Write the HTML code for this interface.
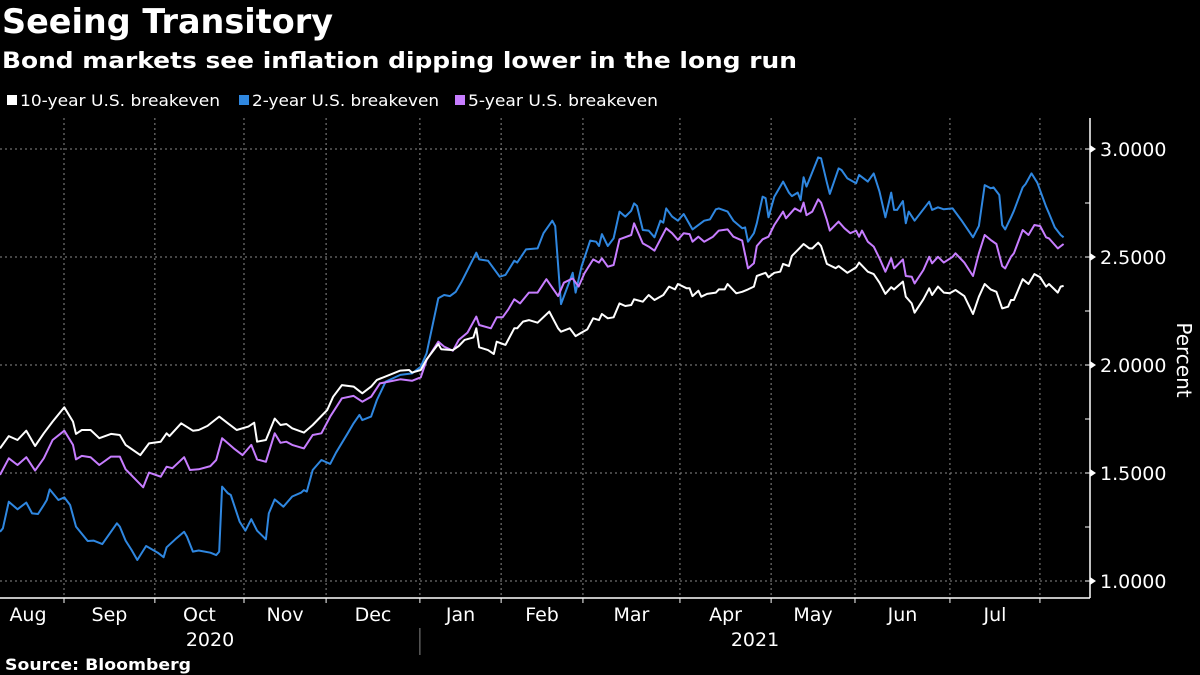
<!DOCTYPE html>
<html><head><meta charset="utf-8"><style>
html,body{margin:0;padding:0;background:#000;width:1200px;height:675px;overflow:hidden}
svg{display:block}
text{font-family:"DejaVu Sans","Liberation Sans",sans-serif;fill:#fff}
</style></head><body>
<svg id="chart" width="1200" height="675" viewBox="0 0 1200 675">
<text x="2" y="33" font-size="34" font-weight="bold" textLength="331" lengthAdjust="spacingAndGlyphs">Seeing Transitory</text>
<text x="2" y="68" font-size="22" font-weight="bold" textLength="795" lengthAdjust="spacingAndGlyphs">Bond markets see inflation dipping lower in the long run</text>
<g>
<rect x="7" y="95" width="10" height="10" fill="#fff"/>
<text x="20" y="106" font-size="16" textLength="200" lengthAdjust="spacingAndGlyphs">10-year U.S. breakeven</text>
<rect x="239" y="95" width="10" height="10" fill="#2f87e0"/>
<text x="252" y="106" font-size="16" textLength="187" lengthAdjust="spacingAndGlyphs">2-year U.S. breakeven</text>
<rect x="455" y="95" width="10" height="10" fill="#c77dff"/>
<text x="468" y="106" font-size="16" textLength="190" lengthAdjust="spacingAndGlyphs">5-year U.S. breakeven</text>
</g>
<g id="grid"></g>
<g id="series"></g>
<g id="axes"></g>
<text transform="translate(1177,360) rotate(90)" font-size="20" text-anchor="middle">Percent</text>
<text x="5" y="670" font-size="16" font-weight="bold" textLength="186" lengthAdjust="spacingAndGlyphs">Source: Bloomberg</text>
</svg>
<script>
// x in trading-day positions since 2020-08-10
const yTicks = [1.0, 1.5, 2.0, 2.5, 3.0];
const yTickLabels = ["1.0000","1.5000","2.0000","2.5000","3.0000"];
const monthGridDays = [21.9,53.0,83.5,111.6,143.7,171.5,199.5,232.7,263.9,292.6,325.1,355.9];
const monthLabels = ["Aug","Sep","Oct","Nov","Dec","Jan","Feb","Mar","Apr","May","Jun","Jul"];
const yearLabels = ["2020","2021"];
const white10y = [[0,1.614],[3,1.671],[6,1.653],[9,1.696],[12,1.625],[15,1.684],[18,1.738],[22,1.804],[25,1.738],[26,1.681],[28,1.699],[31,1.699],[34,1.661],[38,1.681],[41,1.676],[43,1.630],[48,1.583],[51,1.637],[55,1.645],[57,1.684],[58,1.671],[62,1.730],[66,1.696],[68,1.699],[71,1.718],[75,1.761],[78,1.730],[81,1.699],[85,1.715],[87,1.733],[88,1.645],[91,1.653],[94,1.752],[96,1.722],[98,1.727],[100,1.707],[104,1.687],[107,1.722],[110,1.764],[112,1.792],[114,1.853],[117,1.907],[121,1.900],[124,1.869],[127,1.900],[129,1.931],[137,1.974],[140,1.977],[141,1.965],[144,1.977],[146,2.026],[150,2.097],[151,2.073],[155,2.069],[157,2.088],[159,2.116],[162,2.128],[163,2.170],[164,2.082],[167,2.069],[169,2.051],[170,2.108],[173,2.093],[176,2.170],[177,2.170],[179,2.201],[181,2.208],[184,2.196],[188,2.247],[191,2.170],[192,2.154],[195,2.170],[197,2.134],[199,2.150],[201,2.165],[203,2.216],[205,2.208],[206,2.236],[208,2.216],[210,2.221],[212,2.285],[214,2.273],[216,2.278],[217,2.304],[220,2.293],[222,2.324],[224,2.301],[227,2.324],[229,2.363],[231,2.350],[232,2.375],[235,2.355],[236,2.355],[237,2.319],[239,2.344],[240,2.316],[242,2.329],[245,2.335],[246,2.350],[248,2.350],[249,2.375],[252,2.332],[254,2.339],[256,2.350],[258,2.363],[259,2.412],[262,2.427],[263,2.406],[265,2.427],[267,2.432],[268,2.468],[270,2.458],[271,2.505],[273,2.532],[275,2.560],[277,2.540],[278,2.540],[280,2.566],[281,2.551],[283,2.468],[286,2.448],[287,2.458],[290,2.427],[293,2.452],[294,2.474],[297,2.432],[299,2.421],[301,2.381],[303,2.329],[305,2.360],[306,2.350],[309,2.386],[310,2.316],[312,2.285],[313,2.242],[316,2.304],[318,2.355],[319,2.324],[321,2.363],[323,2.335],[325,2.332],[327,2.347],[330,2.319],[333,2.236],[335,2.316],[337,2.375],[339,2.350],[341,2.339],[343,2.262],[345,2.270],[346,2.301],[347,2.301],[350,2.397],[352,2.375],[354,2.421],[356,2.406],[358,2.363],[359,2.375],[362,2.335],[363,2.363],[364,2.366]];
const blue2y = [[0,1.228],[1,1.244],[3,1.367],[6,1.332],[9,1.363],[11,1.313],[13,1.310],[15,1.352],[16,1.375],[17,1.424],[20,1.375],[22,1.387],[24,1.352],[26,1.252],[30,1.185],[32,1.187],[35,1.171],[40,1.267],[41,1.252],[43,1.187],[45,1.144],[47,1.097],[50,1.162],[54,1.131],[56,1.110],[57,1.156],[60,1.193],[63,1.228],[64,1.205],[66,1.136],[68,1.141],[72,1.131],[74,1.120],[75,1.136],[76,1.437],[78,1.406],[79,1.398],[82,1.275],[84,1.233],[86,1.286],[88,1.233],[91,1.193],[92,1.313],[94,1.378],[97,1.344],[100,1.391],[103,1.409],[104,1.421],[105,1.414],[107,1.514],[110,1.560],[113,1.542],[115,1.594],[119,1.684],[121,1.730],[123,1.769],[124,1.745],[127,1.761],[129,1.838],[132,1.923],[137,1.954],[141,1.961],[144,1.992],[146,2.054],[150,2.309],[152,2.324],[154,2.319],[156,2.339],[158,2.386],[163,2.520],[164,2.489],[167,2.483],[171,2.409],[173,2.417],[176,2.483],[177,2.474],[180,2.535],[184,2.540],[186,2.610],[189,2.668],[190,2.643],[192,2.282],[196,2.427],[197,2.335],[199,2.455],[202,2.576],[204,2.571],[205,2.551],[206,2.606],[208,2.551],[210,2.586],[212,2.710],[214,2.687],[216,2.714],[217,2.748],[218,2.736],[220,2.625],[222,2.622],[224,2.591],[226,2.668],[227,2.659],[228,2.725],[230,2.687],[232,2.668],[234,2.699],[237,2.628],[241,2.668],[243,2.674],[245,2.721],[246,2.725],[249,2.710],[251,2.668],[254,2.633],[255,2.637],[256,2.571],[258,2.610],[259,2.656],[261,2.779],[262,2.772],[263,2.684],[265,2.779],[268,2.849],[270,2.798],[271,2.782],[273,2.798],[274,2.764],[275,2.869],[276,2.826],[280,2.961],[281,2.957],[283,2.844],[284,2.792],[287,2.910],[288,2.903],[290,2.864],[293,2.841],[294,2.880],[297,2.849],[299,2.887],[301,2.803],[303,2.684],[305,2.798],[306,2.718],[307,2.718],[309,2.759],[310,2.656],[311,2.710],[313,2.668],[318,2.756],[319,2.718],[321,2.730],[323,2.721],[326,2.725],[329,2.671],[333,2.591],[335,2.644],[337,2.833],[339,2.818],[340,2.822],[342,2.787],[343,2.648],[344,2.628],[346,2.684],[347,2.714],[350,2.822],[351,2.838],[353,2.887],[355,2.844],[358,2.733],[359,2.702],[361,2.637],[363,2.602],[364,2.591]];
const purple5y = [[0,1.491],[3,1.568],[6,1.537],[9,1.573],[12,1.511],[15,1.568],[18,1.653],[22,1.696],[25,1.630],[26,1.563],[28,1.579],[31,1.573],[34,1.537],[38,1.576],[41,1.576],[43,1.517],[49,1.434],[51,1.502],[55,1.483],[57,1.529],[59,1.522],[63,1.573],[65,1.514],[68,1.517],[72,1.532],[74,1.560],[76,1.661],[80,1.614],[83,1.583],[86,1.630],[88,1.563],[91,1.552],[94,1.684],[96,1.640],[98,1.645],[100,1.630],[104,1.614],[107,1.676],[110,1.684],[113,1.761],[117,1.846],[121,1.857],[124,1.830],[127,1.853],[130,1.915],[137,1.934],[141,1.927],[144,1.943],[146,2.023],[150,2.108],[152,2.085],[155,2.066],[157,2.116],[160,2.150],[163,2.224],[164,2.185],[168,2.170],[170,2.221],[172,2.221],[174,2.258],[176,2.304],[178,2.285],[181,2.335],[184,2.335],[187,2.397],[191,2.319],[193,2.381],[196,2.401],[198,2.363],[200,2.424],[203,2.489],[205,2.474],[206,2.494],[208,2.455],[210,2.463],[212,2.582],[216,2.602],[217,2.656],[218,2.625],[220,2.563],[222,2.548],[224,2.529],[226,2.582],[228,2.633],[230,2.610],[232,2.579],[234,2.610],[236,2.606],[237,2.571],[239,2.594],[241,2.571],[244,2.594],[246,2.622],[249,2.628],[251,2.594],[254,2.576],[256,2.447],[258,2.471],[259,2.551],[261,2.582],[263,2.594],[265,2.648],[268,2.710],[269,2.679],[272,2.725],[274,2.710],[275,2.752],[276,2.694],[278,2.710],[280,2.767],[281,2.752],[283,2.671],[284,2.622],[287,2.664],[289,2.633],[291,2.610],[293,2.622],[294,2.594],[295,2.622],[297,2.571],[299,2.548],[301,2.494],[303,2.432],[305,2.494],[306,2.447],[309,2.489],[310,2.412],[312,2.409],[313,2.378],[316,2.440],[318,2.501],[319,2.471],[321,2.501],[323,2.474],[326,2.501],[327,2.517],[330,2.474],[333,2.412],[335,2.517],[337,2.602],[339,2.579],[341,2.560],[343,2.458],[344,2.447],[346,2.501],[347,2.517],[350,2.625],[352,2.602],[354,2.648],[356,2.643],[358,2.591],[359,2.586],[362,2.540],[364,2.560]];

const NS = "http://www.w3.org/2000/svg";
const PX_PER_DAY = 2.922;
function xScale(d){ return d * PX_PER_DAY; }
function yScale(v){ return 581 - (v - 1.0) * 216; }
const AXIS_X = 1090, TOP = 118, BOTTOM = 598;
function mk(tag, attrs, parent){
  const el = document.createElementNS(NS, tag);
  for (const k in attrs) el.setAttribute(k, attrs[k]);
  parent.appendChild(el); return el;
}
const grid = document.getElementById('grid');
const axes = document.getElementById('axes');
const series = document.getElementById('series');

yTicks.forEach((v, i) => {
  const y = yScale(v);
  const g = mk('line', {x1:0, x2:AXIS_X, y1:y, y2:y, stroke:'#8a8a8a', 'stroke-width':1, 'stroke-dasharray':'2,3'}, grid);
  
  
  const t = mk('text', {x:AXIS_X+10, y:y+7, 'font-size':19}, axes);
  t.textContent = yTickLabels[i];
  
  
  const tri = mk('path', {d:`M${AXIS_X} ${y-4} L${AXIS_X+6} ${y} L${AXIS_X} ${y+4} Z`, fill:'#fff'}, axes);
  
  
});
for (let v = 1.0; v <= 3.0001; v += 0.25) {
  const y = yScale(v);
  const m = mk('line', {x1:AXIS_X-5, x2:AXIS_X, y1:y, y2:y, stroke:'#fff', 'stroke-width':1}, axes);
  
  
}
monthGridDays.forEach((d, i) => {
  const x = xScale(d);
  const g = mk('line', {x1:x, x2:x, y1:TOP, y2:BOTTOM, stroke:'#8a8a8a', 'stroke-width':1, 'stroke-dasharray':'2,3'}, grid);
  
  
  const tk = mk('line', {x1:x, x2:x, y1:BOTTOM, y2:BOTTOM+5, stroke:'#fff'}, axes);
  
  
});
monthLabels.forEach((m, i) => {
  const a = i === 0 ? 0 : xScale(monthGridDays[i-1]);
  const b = xScale(monthGridDays[i]);
  const cx = i === 0 ? 28 : (a + b) / 2;
  const t = mk('text', {x:cx, y:621, 'font-size':19, 'text-anchor':'middle'}, axes);
  t.textContent = m;
  
  
});
[[210, yearLabels[0]], [755, yearLabels[1]]].forEach(([x, s]) => {
  const t = mk('text', {x:x, y:646, 'font-size':19, 'text-anchor':'middle'}, axes);
  t.textContent = s;
  
  
});
const sep = mk('line', {x1:xScale(monthGridDays[4]), x2:xScale(monthGridDays[4]), y1:628, y2:655, stroke:'#888'}, axes);


const xa = mk('line', {x1:0, x2:AXIS_X, y1:BOTTOM, y2:BOTTOM, stroke:'#fff', 'stroke-width':1.5}, axes);


const ya = mk('line', {x1:AXIS_X, x2:AXIS_X, y1:TOP, y2:BOTTOM, stroke:'#fff', 'stroke-width':1.5}, axes);



function drawLine(data, color, name){
  const d = data.map((p, i) => (i ? 'L' : 'M') + xScale(p[0]).toFixed(1) + ' ' + yScale(p[1]).toFixed(1)).join(' ');
  const path = mk('path', {d:d, fill:'none', stroke:color, 'stroke-width':2, 'stroke-linejoin':'round'}, series);
  
  
}
drawLine(blue2y, '#2f87e0', 'line-2-year-breakeven');
drawLine(purple5y, '#c77dff', 'line-5-year-breakeven');
drawLine(white10y, '#ffffff', 'line-10-year-breakeven');
</script>
</body></html>
